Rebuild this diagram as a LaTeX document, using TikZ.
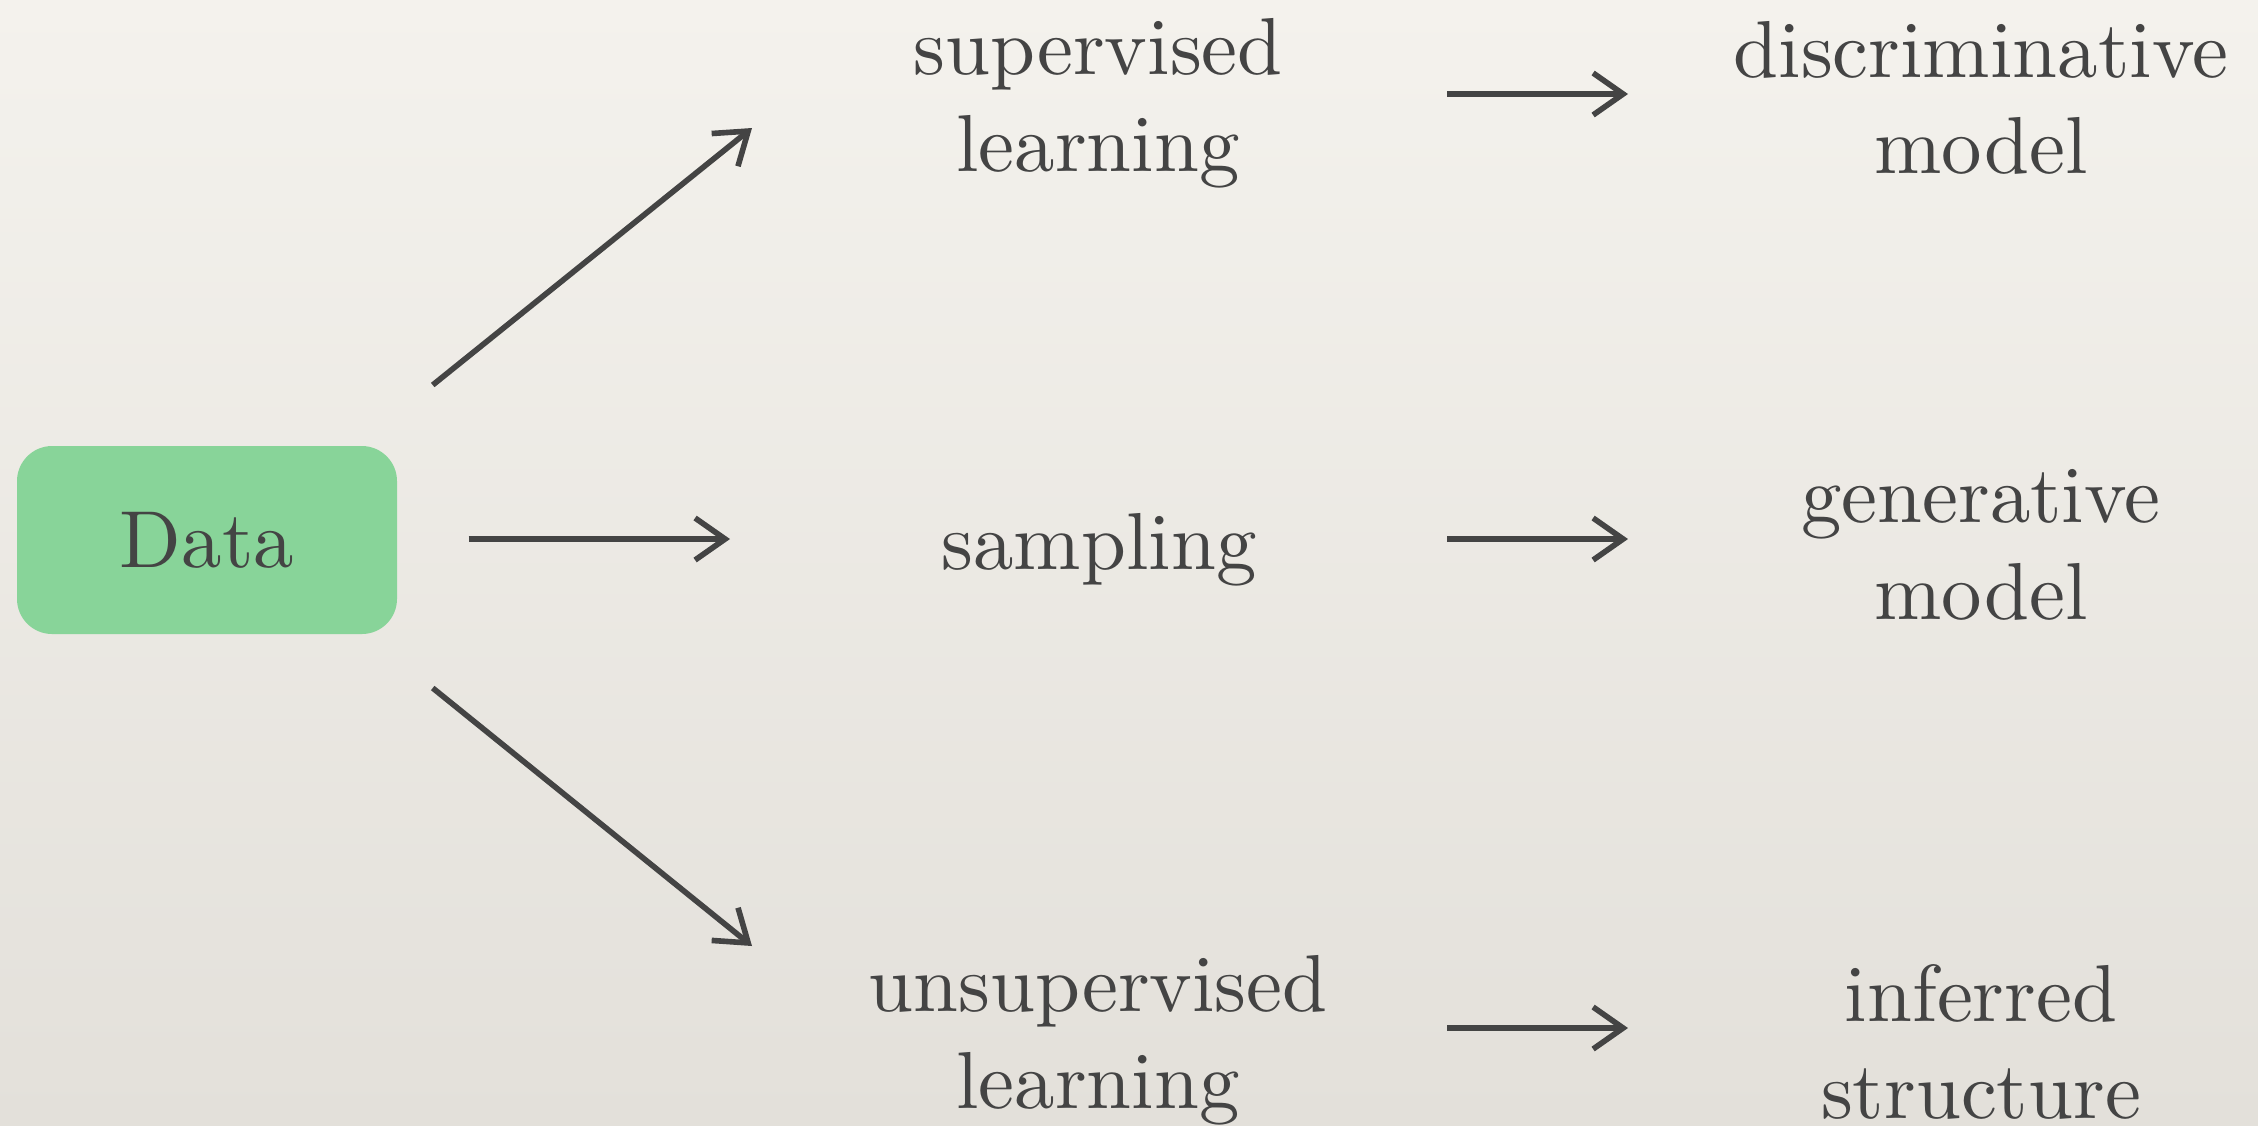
\documentclass[tikz,border=0pt]{standalone}
\usepackage{fontspec}
\setmainfont{lmroman10-regular.otf}
\usetikzlibrary{arrows.meta, positioning, calc}
\definecolor{paper}{HTML}{F4F2ED}
\definecolor{paperdk}{HTML}{E3E0DA}
\definecolor{mint}{HTML}{88D499}
\definecolor{ink}{HTML}{444444}

\begin{document}
\begin{tikzpicture}[
  >={Straight Barb[length=3mm, width=4.2mm]},
  label/.style={align=center, text=ink, font=\fontsize{23}{27.5}\selectfont, inner sep=0pt},
  arr/.style={ink, line width=1.6pt, ->},
]

% Background
\shade[top color=paper, bottom color=paperdk] (0,0) rectangle (22.58,-11.25);
\useasboundingbox (0,0) rectangle (22.58,-11.25);

% ============ Source ============
\node[fill=mint, rounded corners=10pt, minimum width=3.8cm, minimum height=1.88cm,
      text=ink, font=\fontsize{23}{27.5}\selectfont] (data) at (2.07,-5.40) {Data};

% ============ Middle column ============
\node[label] (sup) at (10.98,-1.03) {supervised\\learning};
\node[label] (samp) at (10.99,-5.50) {sampling};
\node[label] (unsup) at (10.98,-10.40) {unsupervised\\learning};

% ============ Right column ============
\node[label] (disc) at (19.81,-0.98) {discriminative\\model};
\node[label] (gen) at (19.81,-5.45) {generative\\model};
\node[label] (inf) at (19.81,-10.42) {inferred\\structure};

% Arrows out of the data box
\draw[arr] ([shift={(0.35,1.55)}]data.east) -- ([shift={(-3.46,-0.25)}]sup.center);
\draw[arr] ([shift={(0.71,0.01)}]data.east) -- ([shift={(-3.69,0.11)}]samp.center);
\draw[arr] ([shift={(0.35,-1.48)}]data.east) -- ([shift={(-3.46,0.94)}]unsup.center);

% Arrows to the outcomes
\draw[arr] ([shift={(3.49,0.09)}]sup.center) -- ([shift={(-3.53,0.04)}]disc.center);
\draw[arr] ([shift={(3.48,0.11)}]samp.center) -- ([shift={(-3.53,0.06)}]gen.center);
\draw[arr] ([shift={(3.49,0.12)}]unsup.center) -- ([shift={(-3.53,0.14)}]inf.center);

\end{tikzpicture}
\end{document}
